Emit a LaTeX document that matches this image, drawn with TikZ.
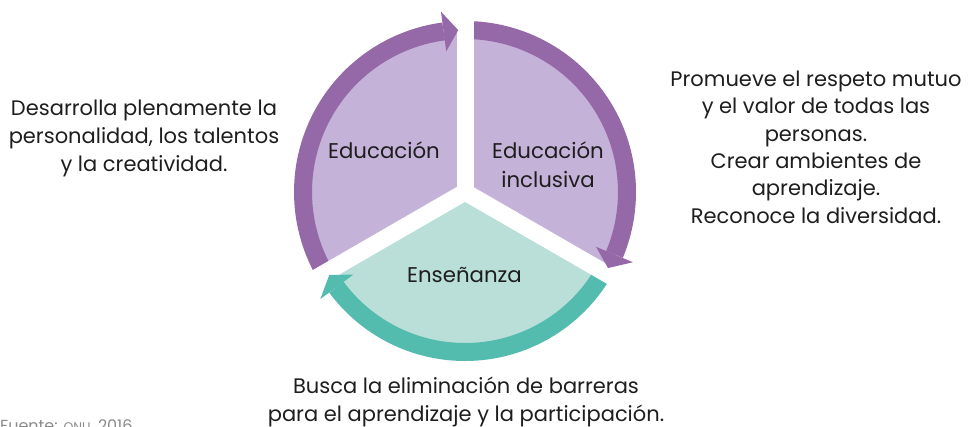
\documentclass[tikz,border=0pt]{standalone}
\usepackage{fontspec}
\setmainfont{Poppins}
\usetikzlibrary{calc}
\definecolor{bandP}{HTML}{9568A8}
\definecolor{fillP}{HTML}{C5B2D8}
\definecolor{bandT}{HTML}{54BCAE}
\definecolor{fillT}{HTML}{B9DFD8}
\definecolor{srcgray}{HTML}{8A8A8A}
\definecolor{txt}{HTML}{1E1E1E}
\begin{document}
\begin{tikzpicture}[x=1pt,y=1pt,
  band/.style={line width=18pt},
  gapline/.style={white, line width=17pt},
  desc/.style={align=center, font=\fontsize{21}{28}\selectfont, text=txt, inner sep=0pt, anchor=base},
  lab/.style={align=center, font=\fontsize{21.3}{29}\selectfont, text=txt, inner sep=0pt, anchor=base}]
\useasboundingbox (0,0) rectangle (968,-426);
\coordinate (C) at (465,-192);
% sector fills
\fill[fillP] (C) -- ($(C)+(90:162)$) arc[start angle=90, end angle=210, radius=162] -- cycle;
\fill[fillP] (C) -- ($(C)+(-30:162)$) arc[start angle=-30, end angle=90, radius=162] -- cycle;
\fill[fillT] (C) -- ($(C)+(210:160)$) arc[start angle=210, end angle=330, radius=160] -- cycle;
% bands
\draw[band, bandP] ($(C)+(210:162)$) arc[start angle=210, end angle=97.6, radius=162];
\draw[band, bandP] ($(C)+(90:162)$) arc[start angle=90, end angle=-22.7, radius=162];
\draw[band, bandT] ($(C)+(-30:160)$) arc[start angle=-30, end angle=-143.5, radius=160];
% gaps
\foreach \a in {90,210,330} \draw[gapline] (C) -- ($(C)+(\a:190)$);
% arrow heads
\fill[bandP] ($(C)+(97.6:142)$) -- ($(C)+(97.6:182)$) -- ($(C)+(92.4:162)$) -- cycle;
\fill[bandP] ($(C)+(-22.7:142)$) -- ($(C)+(-22.7:182)$) -- ($(C)+(-28:162)$) -- cycle;
\fill[bandT] ($(C)+(-143.5:139)$) -- ($(C)+(-143.5:180)$) -- ($(C)+(-148.6:159)$) -- cycle;
% labels
\node[lab] (edu) at (384,-158) {Educación};
\node[lab] (inc) at (548,-187) {Educación\\inclusiva};
\node[lab] (ens) at (464.5,-282) {Enseñanza};
% descriptions
\node[desc] (dl) at (144,-171) {Desarrolla plenamente la\\personalidad, los talentos\\y la creatividad.};
\node[desc, font=\fontsize{21}{27.3}\selectfont] (dr) at (816,-223) {Promueve el respeto mutuo\\y el valor de todas las\\personas.\\Crear ambientes de\\aprendizaje.\\Reconoce la diversidad.};
\node[desc] (db) at (466,-421) {Busca la eliminación de barreras\\para el aprendizaje y la participación.};
\node[anchor=base west, inner sep=0pt, text=srcgray, font=\fontsize{16}{16}\selectfont] (src) at (0,-431) {Fuente: {\fontsize{12.5}{12.5}\selectfont ONU}, 2016};
\end{tikzpicture}
\end{document}
